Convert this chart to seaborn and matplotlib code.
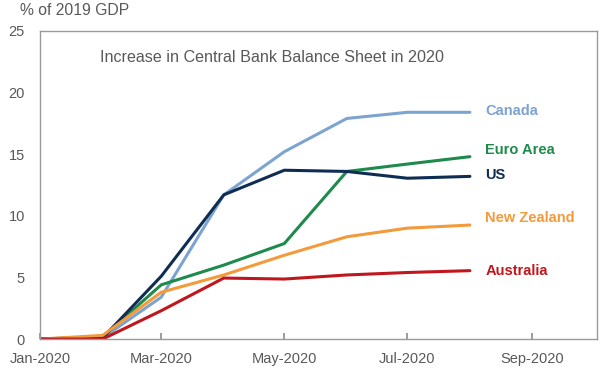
import matplotlib
matplotlib.use("Agg")
import matplotlib.pyplot as plt
import matplotlib.dates as mdates
import seaborn as sns
import pandas as pd

months = pd.date_range("2020-01-01", periods=8, freq="MS")
canada = [0, 0.1, 3.4, 11.7, 15.2, 17.9, 18.4, 18.4]
euro_area = [0, 0.2, 4.4, 6.0, 7.75, 13.6, 14.2, 14.8]
us = [0, 0.1, 5.1, 11.7, 13.7, 13.6, 13.05, 13.2]
new_zealand = [0, 0.3, 3.8, 5.2, 6.8, 8.3, 9.0, 9.25]
australia = [0, 0.0, 2.3, 4.95, 4.87, 5.2, 5.4, 5.55]

series = {"Canada": canada, "Euro Area": euro_area, "US": us,
          "New Zealand": new_zealand, "Australia": australia}
colors = {"Canada": "#7DA3D0", "Euro Area": "#1E8A4C", "US": "#0F2C52",
          "New Zealand": "#F39A3B", "Australia": "#C0161E"}
# label nudges in points (dx, dy)
nudge = {"Canada": 1, "Euro Area": 5, "US": 1, "New Zealand": 5, "Australia": 0}

df = pd.concat([pd.DataFrame({"date": months, "value": v, "country": k})
                for k, v in series.items()])

sns.set_theme(style="white")
plt.rcParams["font.family"] = ["Liberation Sans", "DejaVu Sans"]

fig = plt.figure(figsize=(6, 3.73), dpi=100)
ax = fig.add_axes([0.067, 0.091, 0.928, 0.826])

sns.lineplot(data=df, x="date", y="value", hue="country", palette=colors,
             linewidth=2.2, legend=False, ax=ax)

for k, v in series.items():
    ax.annotate(k, (months[-1], v[-1]), xytext=(11, nudge[k]),
                textcoords="offset points", color=colors[k], fontsize=10.5,
                fontweight="bold", va="center", ha="left")

ax.set_xlim(pd.Timestamp("2020-01-01"), pd.Timestamp("2020-10-03"))
ax.set_ylim(0, 25)
ax.set_yticks([0, 5, 10, 15, 20, 25])
ax.xaxis.set_major_locator(mdates.MonthLocator(bymonth=[1, 3, 5, 7, 9]))
ax.xaxis.set_major_formatter(mdates.DateFormatter("%b-%Y"))
ax.set_xlabel("")
ax.set_ylabel("")

ax.tick_params(axis="x", direction="in", length=4, color="#909090",
               labelsize=10.5, labelcolor="#595959", pad=9, bottom=True)
ax.tick_params(axis="y", length=0, labelsize=10.5, labelcolor="#595959", pad=11)
for s in ax.spines.values():
    s.set_color("#9A9A9A")
    s.set_linewidth(1)

ax.text(0.107, 0.915, "Increase in Central Bank Balance Sheet in 2020",
        transform=ax.transAxes, fontsize=11.6, color="#595959", va="center")
fig.text(0.033, 0.972, "% of 2019 GDP", fontsize=11.3, color="#595959", va="center")

fig.savefig("out.png", dpi=100)
